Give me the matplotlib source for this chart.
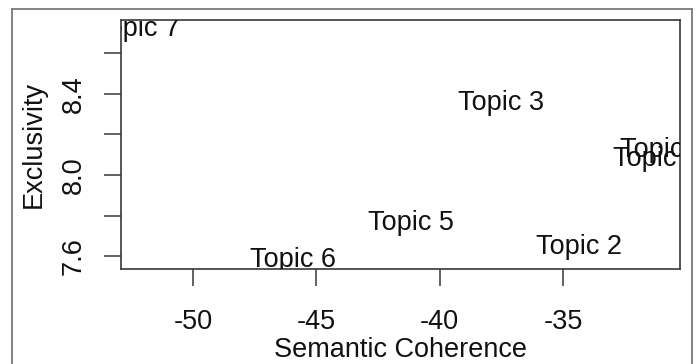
import matplotlib.pyplot as plt
from matplotlib.lines import Line2D

plt.rcParams['font.family'] = ['Liberation Sans', 'DejaVu Sans']
plt.rcParams['axes.unicode_minus'] = False

topics = ["Topic 1", "Topic 2", "Topic 3", "Topic 4", "Topic 5", "Topic 6", "Topic 7"]
coherence = [-30.95, -34.35, -37.53, -31.25, -41.18, -45.93, -52.27]
exclusivity = [8.125, 7.644, 8.356, 8.080, 7.763, 7.580, 8.720]

xticks = [-50, -45, -40, -35]
yticks = [7.6, 7.8, 8.0, 8.2, 8.4, 8.6]
yticklabels = ["7.6", "", "8.0", "", "8.4", ""]

fs = 19.5
ink = '#383838'

fig = plt.figure(figsize=(7, 3.64), dpi=100)
ax = fig.add_axes([121 / 700, 1 - 269 / 364, 559 / 700, 249 / 364])

for name, x, y in zip(topics, coherence, exclusivity):
    ax.text(x, y, name, ha='center', va='center', fontsize=fs,
            color='#111111', clip_on=True)

ax.set_xlim(-52.92, -30.26)
ax.set_ylim(7.536, 8.765)

ax.set_xticks(xticks)
ax.set_yticks(yticks)
ax.set_yticklabels(yticklabels, rotation=90, va='center')
ax.tick_params(axis='both', labelsize=fs, length=12.5, width=1.1,
               color=ink, labelcolor='#111111')
ax.tick_params(axis='x', pad=16)
ax.tick_params(axis='y', pad=12)

# R style box
for sp in ax.spines.values():
    sp.set_color(ink)
    sp.set_linewidth(1.2)

ax.set_xlabel("Semantic Coherence", fontsize=fs, color='#111111', labelpad=1.5)
ax.set_ylabel("Exclusivity", fontsize=fs, color='#111111', labelpad=10)

# outer frame of the screenshot
frame = '#7a7a7a'
fig.add_artist(Line2D([12 / 700, 12 / 700], [0, 1 - 9 / 364],
                      color=frame, lw=1.3, transform=fig.transFigure))
fig.add_artist(Line2D([12 / 700, 692 / 700], [1 - 9 / 364, 1 - 9 / 364],
                      color=frame, lw=1.3, transform=fig.transFigure))
fig.add_artist(Line2D([692 / 700, 692 / 700], [0, 1 - 9 / 364],
                      color=frame, lw=1.3, transform=fig.transFigure))

fig.savefig("out.png", dpi=100)
